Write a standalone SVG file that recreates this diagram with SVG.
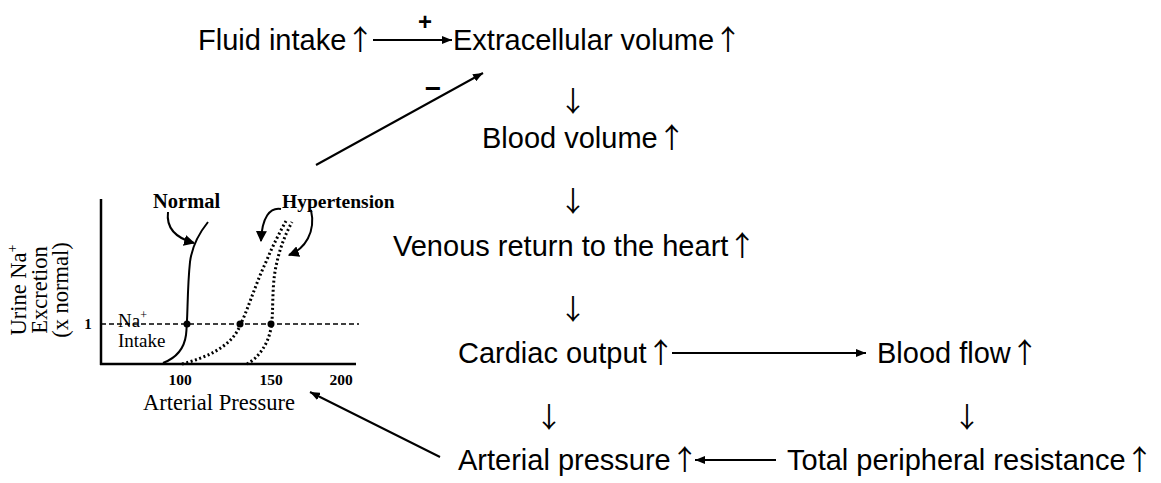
<svg xmlns="http://www.w3.org/2000/svg" width="1161" height="483" viewBox="0 0 1161 483">
<defs>
<style>
.t{font-family:"Liberation Sans",Arial,sans-serif;font-size:29px;fill:#000}
.ar{font-family:"Noto Sans CJK JP","Noto Sans CJK SC",sans-serif;font-size:28px}
.d{font-family:"Noto Sans CJK JP","Noto Sans CJK SC",sans-serif;font-size:28px;fill:#000;text-anchor:middle}
.s{font-family:"Liberation Serif","Times New Roman",serif;fill:#000}
.b{font-family:"Liberation Serif","Times New Roman",serif;font-weight:bold;fill:#000}
.pm{font-family:"Liberation Sans",Arial,sans-serif;font-weight:bold;fill:#000;text-anchor:middle}
.ln{stroke:#000;stroke-width:2;fill:none}
.cv{stroke:#000;stroke-width:2;fill:none}
.dot{stroke:#000;stroke-width:3;fill:none;stroke-dasharray:2 2.5}
</style>
<marker id="ah" viewBox="0 0 10 8" refX="10" refY="4" markerWidth="10" markerHeight="8" markerUnits="userSpaceOnUse" orient="auto">
<path d="M0,0 L10,4 L0,8 z" fill="#000"/>
</marker>
<marker id="ahs" viewBox="0 0 10 10" refX="9" refY="5" markerWidth="11" markerHeight="11" markerUnits="userSpaceOnUse" orient="auto">
<path d="M0,0 L10,5 L0,10 z" fill="#000"/>
</marker>
</defs>
<rect width="1161" height="483" fill="#fff"/>

<g id="connectors">
<line class="ln" x1="373" y1="40" x2="452" y2="40" marker-end="url(#ah)"/>
<text class="pm" x="425" y="30" font-size="24">+</text>
<line class="ln" x1="316" y1="165" x2="483" y2="73" marker-end="url(#ah)"/>
<text class="pm" x="433" y="98" font-size="28">−</text>
<text class="d" x="573" y="112">↓</text>
<text class="d" x="573" y="212">↓</text>
<text class="d" x="573" y="320">↓</text>
<line class="ln" x1="672" y1="353" x2="866" y2="353" marker-end="url(#ah)"/>
<text class="d" x="549" y="428">↓</text>
<text class="d" x="967" y="428">↓</text>
<line class="ln" x1="776" y1="460" x2="695" y2="460" marker-end="url(#ah)"/>
<line class="ln" x1="440" y1="457" x2="310" y2="392" marker-end="url(#ah)"/>
</g>

<g id="node-fluid"><text class="t" x="198" y="50">Fluid intake<tspan class="ar">↑</tspan></text></g>
<g id="node-ecv"><text class="t" x="453" y="50">Extracellular volume<tspan class="ar">↑</tspan></text></g>
<g id="node-blood-volume"><text class="t" x="482" y="148">Blood volume<tspan class="ar">↑</tspan></text></g>
<g id="node-venous"><text class="t" x="393" y="256">Venous return to the heart<tspan class="ar">↑</tspan></text></g>
<g id="node-cardiac"><text class="t" x="458" y="363">Cardiac output<tspan class="ar">↑</tspan></text></g>
<g id="node-blood-flow"><text class="t" x="877" y="363">Blood flow<tspan class="ar">↑</tspan></text></g>
<g id="node-arterial"><text class="t" x="458" y="470">Arterial pressure<tspan class="ar">↑</tspan></text></g>
<g id="node-tpr"><text class="t" x="787" y="470">Total peripheral resistance<tspan class="ar">↑</tspan></text></g>

<g id="node-graph">
<line x1="101" y1="199" x2="101" y2="365" stroke="#000" stroke-width="2.5"/>
<line x1="100" y1="364" x2="356" y2="364" stroke="#000" stroke-width="2.5"/>
<line x1="101" y1="324" x2="359" y2="324" stroke="#000" stroke-width="1.6" stroke-dasharray="5 3"/>
<path class="cv" d="M163,363 C176,358 184,350 186,335 C188,318 187,290 190,262 C192,246 200,232 208,222"/>
<path class="dot" d="M182,364 C205,358 228,348 238,330 C248,310 255,285 266,262 C273,245 280,232 286,221"/>
<path class="dot" d="M247,364 C258,358 268,345 271,328 C274,312 271,285 277,262 C280,248 285,235 292,222"/>
<circle cx="187" cy="324" r="3.5" fill="#000"/>
<circle cx="240" cy="324" r="3.5" fill="#000"/>
<circle cx="271" cy="324" r="3.5" fill="#000"/>
<path class="cv" stroke-width="1.8" d="M168,212 C166,228 176,238 194,243" marker-end="url(#ahs)"/>
<path class="cv" stroke-width="1.8" d="M281,209 C270,207 262,217 261,241" marker-end="url(#ahs)"/>
<path class="cv" stroke-width="1.8" d="M311,210 C316,232 305,249 289,255" marker-end="url(#ahs)"/>
<text class="b" x="153" y="208" font-size="20.5">Normal</text>
<text class="b" x="282" y="208" font-size="19.5">Hypertension</text>
<text class="b" x="88" y="329" font-size="15" text-anchor="middle">1</text>
<text class="s" x="118" y="327" font-size="19">Na<tspan dy="-8" font-size="12">+</tspan></text>
<text class="s" x="118" y="347" font-size="19">Intake</text>
<text class="b" x="180" y="385" font-size="15.5" text-anchor="middle">100</text>
<text class="b" x="271" y="385" font-size="15.5" text-anchor="middle">150</text>
<text class="b" x="341" y="385" font-size="15.5" text-anchor="middle">200</text>
<text class="s" x="219" y="410" font-size="22.5" text-anchor="middle">Arterial Pressure</text>
<g transform="translate(0,290) rotate(-90)" font-size="22.5">
<text class="s" x="0" y="26" text-anchor="middle">Urine Na<tspan dy="-9" font-size="14">+</tspan></text>
<text class="s" x="0" y="47" text-anchor="middle">Excretion</text>
<text class="s" x="0" y="68" text-anchor="middle">(x normal)</text>
</g>
</g>
</svg>
